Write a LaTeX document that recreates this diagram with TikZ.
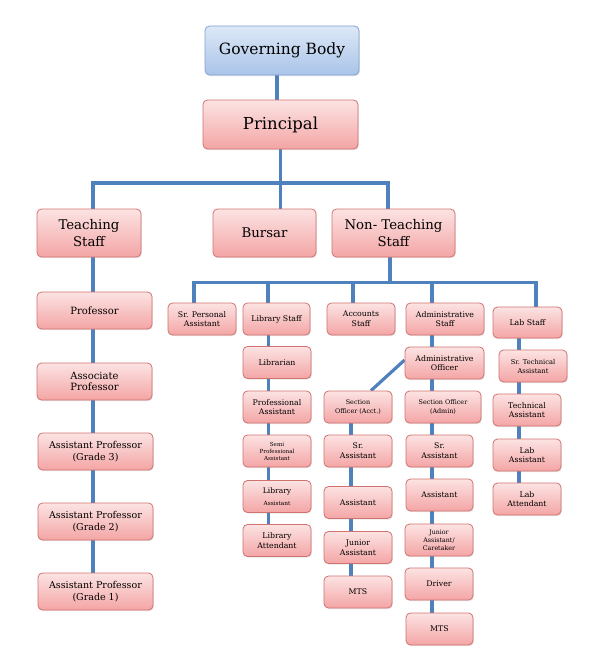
\documentclass[tikz,border=0pt]{standalone}
\usepackage{fontspec}
\setmainfont{DejaVu Serif}
\usetikzlibrary{backgrounds,shadows}
\definecolor{pinktop}{HTML}{FCE3E3}
\definecolor{pinkbot}{HTML}{F4A5A5}
\definecolor{pinkline}{HTML}{D07270}
\definecolor{bluetop}{HTML}{DDE8F6}
\definecolor{bluebot}{HTML}{A9C4E9}
\definecolor{blueline}{HTML}{7FA2D3}
\definecolor{conncol}{HTML}{4F81BD}
\newcommand{\fs}[2]{\fontsize{#1}{#2}\selectfont}
\tikzset{
  pbox/.style={draw=pinkline, line width=0.8pt, rounded corners=4.5pt, top color=pinktop, bottom color=pinkbot,
    align=center, inner sep=1pt, drop shadow={opacity=0.2, shadow xshift=0.8pt, shadow yshift=-1.2pt}},
  bbox/.style={pbox, draw=blueline, top color=bluetop, bottom color=bluebot},
  conn/.style={draw=conncol, line width=3.2pt},
  big/.style={font=\fs{15.5}{18}},
  huge/.style={font=\fs{16.5}{20}},
  lvtwo/.style={font=\fs{13.3}{17}},
  teach/.style={font=\fs{9.5}{11.7}},
  prof/.style={font=\fs{10}{11.7}},
  med/.style={font=\fs{7.8}{9.8}},
  sml/.style={font=\fs{6.4}{9}},
  tiny/.style={font=\fs{5.6}{7}},
}
\begin{document}
\begin{tikzpicture}[x=1pt,y=-1pt]
\useasboundingbox (0,0) rectangle (595,664);
% top
\node[bbox,big,minimum width=154pt,minimum height=49pt] (gb) at (282,50.5) {Governing Body};
\node[pbox,huge,minimum width=155pt,minimum height=49pt] (pr) at (280.5,124.5) {Principal};
% level 1
\node[pbox,lvtwo,minimum width=104pt,minimum height=48pt] (ts) at (89,233) {Teaching\\Staff};
\node[pbox,lvtwo,minimum width=103pt,minimum height=48pt] (bu) at (264.5,233) {Bursar};
\node[pbox,lvtwo,minimum width=123pt,minimum height=48pt] (nt) at (393.5,233) {Non- Teaching\\Staff};
% teaching column
\node[pbox,prof,minimum width=115pt,minimum height=37pt] (profn) at (94.5,310.5) {Professor};
\node[pbox,prof,minimum width=115pt,minimum height=37pt] (assoc) at (94.5,381.5) {Associate\\Professor};
\node[pbox,teach,minimum width=115pt,minimum height=37pt] (g3) at (95.5,451.5) {Assistant Professor\\(Grade 3)};
\node[pbox,teach,minimum width=115pt,minimum height=37pt] (g2) at (95.5,521.5) {Assistant Professor\\(Grade 2)};
\node[pbox,teach,minimum width=115pt,minimum height=37pt] (g1) at (95.5,591.5) {Assistant Professor\\(Grade 1)};
% level 2
\node[pbox,med,minimum width=68pt,minimum height=32pt] (spa) at (202,319) {Sr. Personal\\Assistant};
\node[pbox,med,minimum width=67pt,minimum height=32pt] (ls) at (276.5,319) {Library Staff};
\node[pbox,med,minimum width=68pt,minimum height=32pt] (ac) at (361,319) {Accounts\\Staff};
\node[pbox,med,minimum width=78pt,minimum height=32pt] (as) at (445,319) {Administrative\\Staff};
\node[pbox,med,minimum width=69pt,minimum height=31pt] (lab) at (527.5,322.5) {Lab Staff};
% library column
\node[pbox,med,minimum width=68pt,minimum height=32pt] (libn) at (277,362.5) {Librarian};
\node[pbox,med,minimum width=68pt,minimum height=32pt] (pa) at (277,407) {Professional\\Assistant};
\node[pbox,tiny,minimum width=68pt,minimum height=32pt] (semi) at (277,451) {Semi\\Professional\\Assistant};
\node[pbox,minimum width=68pt,minimum height=32pt] (la) at (277,496.5) {\fs{7.6}{8.5}Library\\\fs{5.8}{7}Assistant};
\node[pbox,med,minimum width=68pt,minimum height=32pt] (lat) at (277,540.5) {Library\\Attendant};
% accounts column
\node[pbox,sml,minimum width=68pt,minimum height=32pt] (soa) at (358,407) {Section\\Officer (Acct.)};
\node[pbox,med,minimum width=68pt,minimum height=32pt] (sra) at (358,451) {Sr.\\Assistant};
\node[pbox,med,minimum width=68pt,minimum height=32pt] (asa) at (358,502.5) {Assistant};
\node[pbox,med,minimum width=68pt,minimum height=32pt] (jaa) at (358,547.5) {Junior\\Assistant};
\node[pbox,med,minimum width=68pt,minimum height=32pt] (mtsa) at (358,592) {MTS};
% admin column
\node[pbox,med,minimum width=79pt,minimum height=32pt] (ao) at (444.5,363) {Administrative\\Officer};
\node[pbox,sml,minimum width=76pt,minimum height=32pt] (sod) at (443,407) {Section Officer\\(Admin)};
\node[pbox,med,minimum width=67pt,minimum height=32pt] (srd) at (439.5,451) {Sr.\\Assistant};
\node[pbox,med,minimum width=67pt,minimum height=32pt] (asd) at (439.5,495) {Assistant};
\node[pbox,font=\fs{6.3}{7.8},minimum width=68pt,minimum height=32pt] (jad) at (439,540) {Junior\\Assistant/\\Caretaker};
\node[pbox,med,minimum width=68pt,minimum height=32pt] (dr) at (439,584) {Driver};
\node[pbox,med,minimum width=67pt,minimum height=32pt] (mtsd) at (439.5,629) {MTS};
% lab column
\node[pbox,font=\fs{6.7}{9},minimum width=68pt,minimum height=32pt] (sta) at (533,366) {Sr. Technical\\Assistant};
\node[pbox,med,minimum width=68pt,minimum height=32pt] (ta) at (527,410) {Technical\\Assistant};
\node[pbox,med,minimum width=68pt,minimum height=32pt] (lasst) at (527,455) {Lab\\Assistant};
\node[pbox,med,minimum width=68pt,minimum height=32pt] (latt) at (527,499) {Lab\\Attendant};
% connectors
\coordinate (b1) at (280.5,183);
\coordinate (b2) at (390,282.5);
\begin{scope}[on background layer]
\draw[conn] ([xshift=-5]gb.south) -- ([xshift=-3.5]pr.north);
\draw[conn] (pr.south) -- (pr.south |- bu.north);
\draw[conn] ([xshift=4]ts.north) |- (b1) -| ([xshift=-5.5]nt.north);
\draw[conn] ([xshift=4]ts.south) -- ([xshift=4]ts.south |- g1.north);
\draw[conn] ([xshift=-3.5]nt.south) -- (b2);
\draw[conn] ([xshift=-8]spa.north) |- (b2) -| ([xshift=8.5]lab.north);
\draw[conn] ([xshift=-8.5]ls.north) |- (b2);
\draw[conn] ([xshift=-8]ac.north) |- (b2);
\draw[conn] ([xshift=-13]as.north) |- (b2);
\draw[conn] ([xshift=-8]ls.south) -- ([xshift=-8]ls.south |- lat.north);
\draw[conn] ([xshift=-7]soa.south) -- ([xshift=-7]soa.south |- mtsa.north);
\draw[conn] ([xshift=13]soa.north) -- ([yshift=3]ao.west);
\draw[conn] ([xshift=-13]as.south) -- ([xshift=-13]as.south |- mtsd.north);
\draw[conn] ([xshift=-8.5]lab.south) -- ([xshift=-8.5]lab.south |- latt.north);
\end{scope}
\end{tikzpicture}
\end{document}
